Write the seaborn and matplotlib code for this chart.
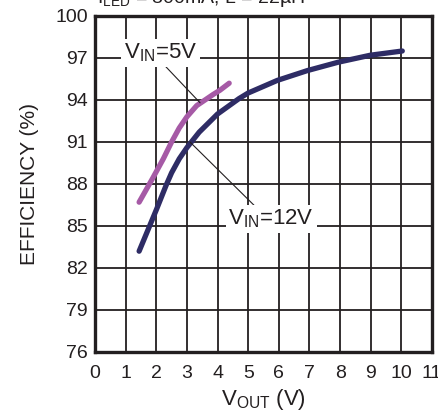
import matplotlib
matplotlib.use("Agg")
import matplotlib.pyplot as plt
import seaborn as sns
import pandas as pd

# efficiency curves
vout_5v = [1.44, 1.88, 2.23, 2.5, 2.75, 3.0, 3.32, 3.86, 4.08, 4.38]
eff_5v = [86.7, 88.4, 89.8, 91.0, 92.0, 92.8, 93.6, 94.4, 94.7, 95.2]

vout_12v = [1.44, 2.01, 2.32, 2.5, 2.75, 3.0, 3.4, 4.0, 4.7, 5.0, 5.95, 6.93, 7.94, 8.99, 10.03]
eff_12v = [83.2, 86.2, 87.9, 88.8, 89.8, 90.6, 91.7, 93.0, 94.1, 94.5, 95.4, 96.1, 96.7, 97.2, 97.5]

x_ticks = list(range(0, 12))
y_ticks = [76, 79, 82, 85, 88, 91, 94, 97, 100]

df = pd.concat([
    pd.DataFrame({"vout": vout_5v, "eff": eff_5v, "vin": "5V"}),
    pd.DataFrame({"vout": vout_12v, "eff": eff_12v, "vin": "12V"}),
])

sns.set_style("white")
plt.rcParams["font.family"] = ["Liberation Sans", "DejaVu Sans"]
plt.rcParams["mathtext.fontset"] = "custom"
plt.rcParams["mathtext.rm"] = "Liberation Sans"
plt.rcParams["mathtext.it"] = "Liberation Sans:italic"

ink = "#231f20"

fig = plt.figure(figsize=(4.39, 4.17), dpi=100)
ax = fig.add_axes([95 / 439, 1 - 352 / 417, 337 / 439, 336 / 417])

sns.lineplot(data=df, x="vout", y="eff", hue="vin",
             palette={"5V": "#a65aa6", "12V": "#2e2c65"},
             linewidth=3.8, legend=False, sort=False, ax=ax, zorder=3)
for ln in ax.get_lines():
    ln.set_solid_joinstyle("round")

ax.set_xlim(0, 11)
ax.set_ylim(76, 100)
ax.set_xticks(x_ticks)
ax.set_yticks(y_ticks)
ax.grid(True, color=ink, linewidth=1.3)
ax.tick_params(length=0, labelsize=14, colors=ink)
ax.tick_params(axis="x", pad=9)
ax.tick_params(axis="y", pad=5)
for s in ax.spines.values():
    s.set_linewidth(2.4)
    s.set_color(ink)

ax.set_xlabel(r"$\mathrm{V_{OUT}}$ (V)", fontsize=16, color=ink, labelpad=4)
ax.set_ylabel("EFFICIENCY (%)", fontsize=15, color=ink, labelpad=12)

# leader lines and labels
ax.plot([2.19, 3.43], [96.66, 93.8], color=ink, linewidth=0.8, zorder=4)
ax.plot([3.10, 5.46], [91.0, 85.9], color=ink, linewidth=0.8, zorder=4)
box = dict(facecolor="white", edgecolor="none", pad=2)
ax.text(2.14, 97.35, r"$\mathrm{V_{IN}}$=5V", fontsize=16, ha="center", va="center",
        color=ink, bbox=box, zorder=5)
ax.text(5.75, 85.5, r"$\mathrm{V_{IN}}$=12V", fontsize=16, ha="center", va="center",
        color=ink, bbox=box, zorder=5)

# title, cut off by the top edge
fig.text(97 / 439, 1 - 3 / 417, r"$\mathrm{I_{LED}}$ = 300mA, L = 22µH", fontsize=14,
         ha="left", va="baseline", color=ink)

fig.savefig("out.png", dpi=100, facecolor="white")
